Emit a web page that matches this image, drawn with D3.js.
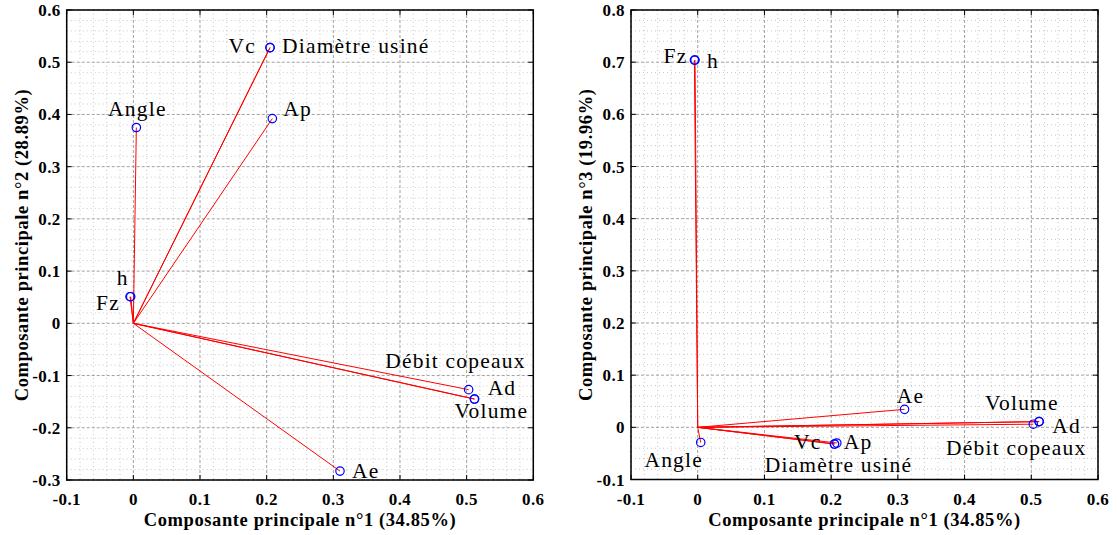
<!DOCTYPE html>
<html>
<head>
<meta charset="utf-8">
<script src="https://cdn.jsdelivr.net/npm/d3@7"></script>
</head>
<body style="margin:0">
<svg id="chart" width="1118" height="535"></svg>
<script>
// ========== DATA ==========
const variables = ["Vc", "Diamètre usiné", "Ap", "Angle", "Fz", "h", "Débit copeaux", "Ad", "Volume", "Ae"];
const pc1 = [0.205, 0.205, 0.2085, 0.0045, -0.005, -0.004, 0.503, 0.512, 0.5115, 0.310];
const pc2 = [0.528, 0.528, 0.392, 0.375, 0.051, 0.051, -0.127, -0.145, -0.145, -0.283];
const pc3 = [-0.032, -0.032, -0.030, -0.029, 0.704, 0.704, 0.006, 0.011, 0.011, 0.0345];

const xTicks = [-0.1, 0, 0.1, 0.2, 0.3, 0.4, 0.5, 0.6];
const yTicksLeft = [-0.3, -0.2, -0.1, 0, 0.1, 0.2, 0.3, 0.4, 0.5, 0.6];
const yTicksRight = [-0.1, 0, 0.1, 0.2, 0.3, 0.4, 0.5, 0.6, 0.7, 0.8];

const xTitle = "Composante principale n°1 (34.85%)";
const yTitleLeft = "Composante principale n°2 (28.89%)";
const yTitleRight = "Composante principale n°3 (19.96%)";

// label placement per panel: [anchor, dx, dy]
const labelPosLeft = {
    "Vc": ["end", -14, 5],
    "Diamètre usiné": ["start", 12, 5],
    "Ap": ["start", 11, -3],
    "Angle": ["middle", 1, -12],
    "Fz": ["end", -10, 13],
    "h": ["end", -2, -12],
    "Débit copeaux": ["end", 57, -22],
    "Ad": ["start", 13, -4],
    "Volume": ["end", 54, 19],
    "Ae": ["start", 12, 7]
};
const labelPosRight = {
    "Vc": ["end", -13, 5],
    "Diamètre usiné": ["middle", 4, 28],
    "Ap": ["start", 7, 6],
    "Angle": ["middle", -27, 25],
    "Fz": ["end", -7, 3],
    "h": ["start", 12, 8],
    "Débit copeaux": ["middle", -17, 31],
    "Ad": ["start", 13, 11],
    "Volume": ["middle", -17, -12],
    "Ae": ["middle", 6, -6]
};

function fmt(v) {
    return v === 0 ? "0" : v.toFixed(1);
}

function addText(parent, tx, ty, str, anchor, size, bold, spacing, rot) {
    const t = parent.append("text")
        .attr("x", tx).attr("y", ty)
        .attr("text-anchor", anchor)
        .style("font-family", "'Liberation Serif'")
        .style("font-size", size + "px")
        .style("letter-spacing", spacing + "px")
        .text(str);
    if (bold) t.style("font-weight", "bold");
    if (rot) t.attr("transform", `rotate(${rot},${tx},${ty})`);
    return t;
}

function drawPanel(svg, opts) {
    const x = d3.scaleLinear().domain([-0.1, 0.6]).range([opts.left, opts.right]);
    const y = d3.scaleLinear().domain(opts.yDomain).range([opts.bottom, opts.top]);
    const g = svg.append("g");

    // minor grid
    const xMinor = d3.range(-0.1, 0.6001, 0.02).filter(v => Math.abs(Math.round(v * 10) - v * 10) > 1e-6);
    const yMinor = d3.range(opts.yDomain[0], opts.yDomain[1] + 0.0001, 0.02).filter(v => Math.abs(Math.round(v * 10) - v * 10) > 1e-6);
    g.selectAll(".xminor").data(xMinor).enter().append("line")
        .attr("x1", d => x(d)).attr("x2", d => x(d))
        .attr("y1", opts.top).attr("y2", opts.bottom)
        .attr("stroke", "#c8c8c8").attr("stroke-width", 1).attr("stroke-dasharray", "1,3");
    g.selectAll(".yminor").data(yMinor).enter().append("line")
        .attr("y1", d => y(d)).attr("y2", d => y(d))
        .attr("x1", opts.left).attr("x2", opts.right)
        .attr("stroke", "#c8c8c8").attr("stroke-width", 1).attr("stroke-dasharray", "1,3");

    // major grid
    g.selectAll(".xmajor").data(xTicks).enter().append("line")
        .attr("x1", d => x(d)).attr("x2", d => x(d))
        .attr("y1", opts.top).attr("y2", opts.bottom)
        .attr("stroke", "#a0a0a0").attr("stroke-width", 1).attr("stroke-dasharray", "3,2");
    g.selectAll(".ymajor").data(opts.yTicks).enter().append("line")
        .attr("y1", d => y(d)).attr("y2", d => y(d))
        .attr("x1", opts.left).attr("x2", opts.right)
        .attr("stroke", "#a0a0a0").attr("stroke-width", 1).attr("stroke-dasharray", "3,2");

    const pts = variables.map((v, i) => ({ name: v, px: pc1[i], py: opts.ys[i] }));

    // vectors from origin
    g.selectAll(".vec").data(pts).enter().append("line")
        .attr("x1", x(0)).attr("y1", y(0))
        .attr("x2", d => x(d.px)).attr("y2", d => y(d.py))
        .attr("stroke", "#ff0000").attr("stroke-width", 1);

    g.selectAll(".pt").data(pts).enter().append("circle")
        .attr("cx", d => x(d.px)).attr("cy", d => y(d.py))
        .attr("r", 4.2)
        .attr("fill", "none").attr("stroke", "#0000ff").attr("stroke-width", 1.2);

    // variable labels
    pts.forEach(d => {
        const p = opts.labels[d.name];
        addText(g, x(d.px) + p[1], y(d.py) + p[2], d.name, p[0], 21.5, false, 1.2);
    });

    // box
    g.append("rect")
        .attr("x", opts.left).attr("y", opts.top)
        .attr("width", opts.right - opts.left).attr("height", opts.bottom - opts.top)
        .attr("fill", "none").attr("stroke", "#000").attr("stroke-width", 1.5);

    // inward ticks on all sides
    const tl = 5;
    xTicks.forEach(v => {
        g.append("line").attr("x1", x(v)).attr("x2", x(v)).attr("y1", opts.bottom).attr("y2", opts.bottom - tl).attr("stroke", "#000");
        g.append("line").attr("x1", x(v)).attr("x2", x(v)).attr("y1", opts.top).attr("y2", opts.top + tl).attr("stroke", "#000");
    });
    opts.yTicks.forEach(v => {
        g.append("line").attr("y1", y(v)).attr("y2", y(v)).attr("x1", opts.left).attr("x2", opts.left + tl).attr("stroke", "#000");
        g.append("line").attr("y1", y(v)).attr("y2", y(v)).attr("x1", opts.right).attr("x2", opts.right - tl).attr("stroke", "#000");
    });

    // tick labels
    xTicks.forEach(v => addText(g, x(v), opts.bottom + 25, fmt(v), "middle", 17, true, 0.4));
    opts.yTicks.forEach(v => addText(g, opts.left - 6, y(v) + 6, fmt(v), "end", 17, true, 0.4));

    // axis titles
    addText(g, (opts.left + opts.right) / 2, opts.bottom + 46, xTitle, "middle", 18.5, true, 0.6);
    addText(g, opts.left - 39, (opts.top + opts.bottom) / 2, opts.yTitle, "middle", 18.5, true, 0.6, -90);
}

const svg = d3.select("#chart");
svg.append("rect").attr("width", 1118).attr("height", 535).attr("fill", "#fff");

drawPanel(svg, {
    left: 66.7, right: 533.3, top: 10, bottom: 480,
    yDomain: [-0.3, 0.6], yTicks: yTicksLeft, ys: pc2,
    labels: labelPosLeft, yTitle: yTitleLeft
});

drawPanel(svg, {
    left: 631, right: 1098, top: 10, bottom: 479.5,
    yDomain: [-0.1, 0.8], yTicks: yTicksRight, ys: pc3,
    labels: labelPosRight, yTitle: yTitleRight
});
</script>
</body>
</html>
